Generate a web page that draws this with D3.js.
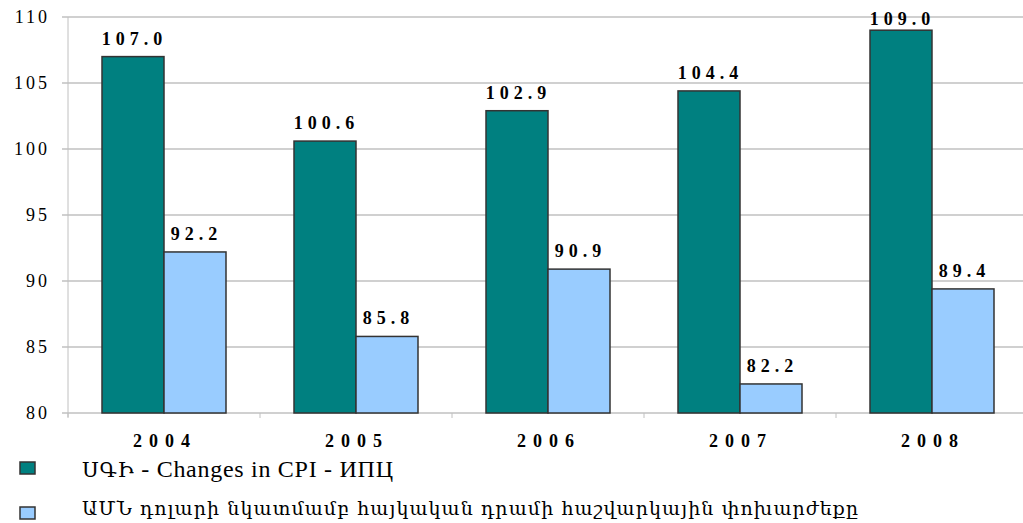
<!DOCTYPE html>
<html><head><meta charset="utf-8">
<script src="https://cdn.jsdelivr.net/npm/d3@7"></script>
<style>body{margin:0;background:#fff;}svg{display:block;}</style>
</head><body>
<svg id="c" width="1023" height="523"></svg>
<script>
const categories = ["2004","2005","2006","2007","2008"];
const cpi = [107.0, 100.6, 102.9, 104.4, 109.0];
const rate = [92.2, 85.8, 90.9, 82.2, 89.4];
const yTicks = [80, 85, 90, 95, 100, 105, 110];
const seriesNames = ["ՍԳԻ - Changes in CPI - ИПЦ", "ԱՄՆ դոլարի նկատմամբ հայկական դրամի հաշվարկային փոխարժեքը"];
const colors = ["#008080", "#99ccff"];

const LS = '"Liberation Serif"';
const DS = '"DejaVu Serif"';
const svg = d3.select("#c");
const L = 68, R = 1028, T = 17, B = 413;
const x = d3.scaleBand().domain(categories).range([L, R]);
const y = d3.scaleLinear().domain([80, 110]).range([B, T]);
const barW = 62;

svg.append("g").selectAll("line").data(yTicks).join("line")
  .attr("x1", L - 6).attr("x2", 1023)
  .attr("y1", d => y(d)).attr("y2", d => y(d))
  .attr("stroke", "#c0c0c0").attr("stroke-width", 1.5);
svg.append("line").attr("x1", L).attr("x2", L).attr("y1", T).attr("y2", B + 4)
  .attr("stroke", "#c0c0c0").attr("stroke-width", 1);
svg.append("g").selectAll("line").data(d3.range(categories.length + 1)).join("line")
  .attr("x1", i => L + i * x.bandwidth()).attr("x2", i => L + i * x.bandwidth())
  .attr("y1", B).attr("y2", B + 5).attr("stroke", "#c0c0c0");
svg.append("g").selectAll("text").data(yTicks).join("text")
  .attr("x", 50).attr("y", d => y(d) + 6)
  .attr("text-anchor", "end").style("font-family", LS).attr("font-size", 18)
  .attr("letter-spacing", 3).attr("fill", "#000").text(d => d);

const series = [cpi, rate];
const vls = 5;
series.forEach((vals, si) => {
  const g = svg.append("g");
  const bx = d => x(d) + x.bandwidth() / 2 - barW + si * barW;
  g.selectAll("rect").data(categories).join("rect")
    .attr("x", bx).attr("width", barW)
    .attr("y", (d,i) => y(vals[i])).attr("height", (d,i) => y(80) - y(vals[i]))
    .attr("fill", colors[si]).attr("stroke", "#333").attr("stroke-width", 1.5);
  g.selectAll("text").data(categories).join("text")
    .attr("x", d => bx(d) + barW / 2 + vls / 2 - 1)
    .attr("y", (d,i) => Math.max(y(vals[i]) - 12, 25))
    .attr("text-anchor", "middle").style("font-family", LS).attr("font-weight", "bold")
    .attr("font-size", 18).attr("letter-spacing", vls)
    .text((d,i) => vals[i].toFixed(1));
});

svg.append("g").selectAll("text").data(categories).join("text")
  .attr("x", d => x(d) + x.bandwidth() / 2 + 1).attr("y", 447)
  .attr("text-anchor", "middle").style("font-family", LS).attr("font-weight", "bold")
  .attr("font-size", 18).attr("letter-spacing", 7).text(d => d);

const lg = svg.append("g");
const textY = [477, 515];
const textW = [311, 776];
const isArm = ch => /[\u0530-\u058F]/.test(ch);
seriesNames.forEach((n, i) => {
  const ly = 462 + i * 45;
  lg.append("rect").attr("x", 20).attr("y", ly).attr("width", 15).attr("height", 12)
    .attr("fill", colors[i]).attr("stroke", "#333").attr("stroke-width", 1.5);
  const t = lg.append("text").attr("x", 82).attr("y", textY[i])
    .attr("textLength", textW[i]).attr("lengthAdjust", "spacing").attr("fill", "#000");
  const runs = [];
  for (const ch of n) {
    const a = isArm(ch) || (ch === " " && runs.length && runs[runs.length-1].a && i === 1);
    if (runs.length && runs[runs.length-1].a === a) runs[runs.length-1].s += ch;
    else runs.push({a, s: ch});
  }
  runs.forEach(r => {
    t.append("tspan").style("font-family", r.a ? DS : LS)
      .attr("font-size", r.a ? (i === 0 ? 21 : 19) : 24).text(r.s);
  });
});
</script>
</body></html>
